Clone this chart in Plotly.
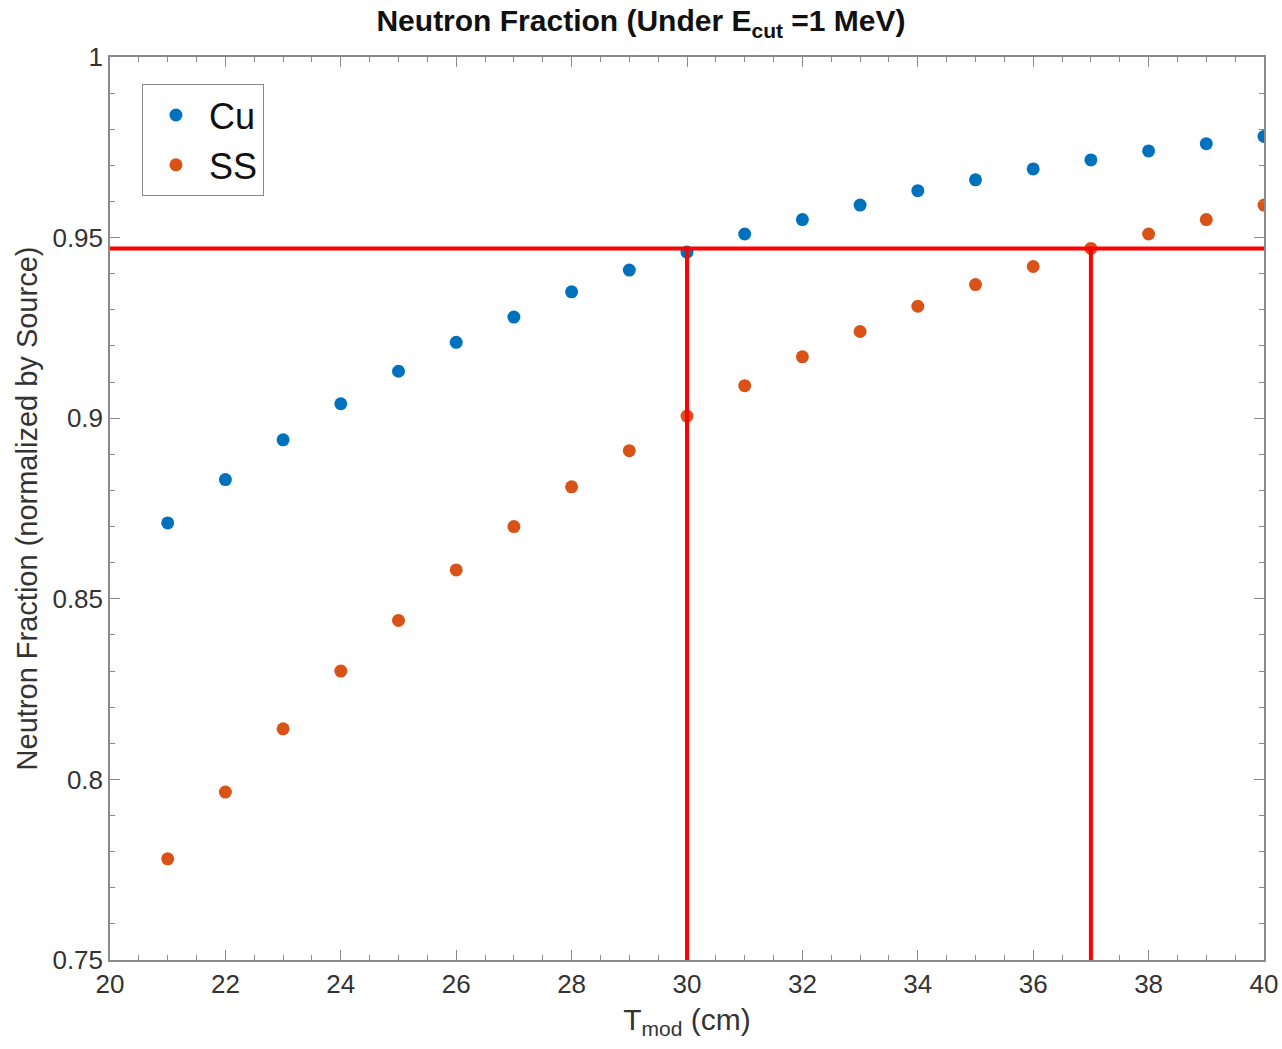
import plotly.graph_objects as go

t_mod = [21, 22, 23, 24, 25, 26, 27, 28, 29, 30, 31, 32, 33, 34, 35, 36, 37, 38, 39, 40]
cu = [0.871, 0.883, 0.894, 0.904, 0.913, 0.921, 0.928, 0.935, 0.941, 0.946,
      0.951, 0.955, 0.959, 0.963, 0.966, 0.969, 0.9715, 0.974, 0.976, 0.978]
ss = [0.778, 0.7965, 0.814, 0.830, 0.844, 0.858, 0.870, 0.881, 0.891, 0.9006,
      0.909, 0.917, 0.924, 0.931, 0.937, 0.942, 0.947, 0.951, 0.955, 0.959]

h_level = 0.947
v_marks = [30, 37]
x_range = [20, 40]
y_range = [0.75, 1.0]

fig = go.Figure()
fig.add_trace(go.Scatter(x=t_mod, y=cu, mode="markers", name="Cu",
                         marker=dict(color="#0072BD", size=13)))
fig.add_trace(go.Scatter(x=t_mod, y=ss, mode="markers", name="SS",
                         marker=dict(color="#D95319", size=13)))

red = dict(color="#FF0000", width=4)
fig.add_shape(type="line", x0=x_range[0], x1=x_range[1], y0=h_level, y1=h_level,
              xref="x", yref="y", line=red)
for xv in v_marks:
    fig.add_shape(type="line", x0=xv, x1=xv, y0=y_range[0], y1=h_level,
                  xref="x", yref="y", line=red)

axis_col = "#8a8a8a"
fig.update_layout(
    width=1282, height=1049,
    paper_bgcolor="white", plot_bgcolor="white",
    margin=dict(l=110, r=18, t=57, b=89, autoexpand=False),
    font=dict(family="Liberation Sans, Arial, sans-serif", color="#333333"),
    title=dict(text="<b>Neutron Fraction (Under E<sub>cut</sub> =1 MeV)</b>",
               x=0.5, xanchor="center", y=0.990, yanchor="top",
               font=dict(size=30, color="#111111")),
    showlegend=True,
    legend=dict(x=0.0277, y=0.970, xanchor="left", yanchor="top",
                bgcolor="white", bordercolor=axis_col, borderwidth=1,
                font=dict(size=36, color="#111111"),
                itemwidth=56, tracegroupgap=0),
)
fig.update_xaxes(range=x_range, dtick=2, tick0=20, showgrid=False, zeroline=False,
                 automargin=False,
                 showline=True, linecolor=axis_col, linewidth=1.5, mirror="ticks",
                 ticks="inside", ticklen=10, tickcolor=axis_col,
                 minor=dict(dtick=0.5, ticks="inside", ticklen=5, tickcolor=axis_col),
                 tickfont=dict(size=26, color="#333333"),
                 title=dict(text="T<sub>mod</sub> (cm)", font=dict(size=30, color="#333333"),
                            standoff=11))
fig.update_yaxes(range=y_range, dtick=0.05, tick0=0.75, showgrid=False, zeroline=False,
                 automargin=False,
                 showline=True, linecolor=axis_col, linewidth=1.5, mirror="ticks",
                 ticks="inside", ticklen=10, tickcolor=axis_col,
                 minor=dict(dtick=0.01, ticks="inside", ticklen=5, tickcolor=axis_col),
                 tickfont=dict(size=26, color="#333333"),
                 title=dict(text="Neutron Fraction (normalized by Source)",
                            font=dict(size=29, color="#333333"), standoff=6))

fig.write_html("out.html", config={"displayModeBar": False},
               post_script="document.body.style.margin='0';document.body.style.padding='0';")
